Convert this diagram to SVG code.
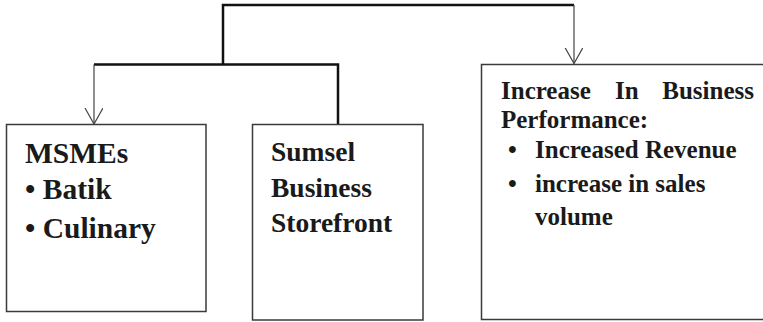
<svg xmlns="http://www.w3.org/2000/svg" width="763" height="322" viewBox="0 0 763 322">
<style>
.box{fill:#fff;stroke:#3a3a3a;stroke-width:1.5}
.t{font-family:"Liberation Serif","Times New Roman",serif;font-weight:bold;fill:#1a1a1a}
.thick{fill:none;stroke:#111;stroke-width:2.5}
.thin{fill:none;stroke:#444;stroke-width:1.2}
</style>
<defs>
<marker id="arr" markerWidth="20" markerHeight="20" refX="16" refY="9" orient="auto" markerUnits="userSpaceOnUse">
<path d="M0,0 L16,9 L0,18" fill="none" stroke="#444" stroke-width="1.2"/>
</marker>
</defs>
<g id="connectors">
<polyline class="thick" points="223,64.5 223,5 574,5"/>
<polyline class="thick" points="94,64.5 338,64.5 338,124"/>
<line class="thin" x1="94" y1="64.5" x2="94" y2="124" marker-end="url(#arr)"/>
<line class="thin" x1="574" y1="5" x2="574" y2="63.5" marker-end="url(#arr)"/>
</g>
<g id="msmes">
<rect class="box" x="6.5" y="124.5" width="199.5" height="187"/>
<text class="t" font-size="29.5"><tspan x="25" y="163">MSMEs</tspan><tspan x="25" y="199">• Batik</tspan><tspan x="25" y="238">• Culinary</tspan></text>
</g>
<g id="storefront">
<rect class="box" x="252.5" y="124.5" width="170.5" height="195.5"/>
<text class="t" font-size="27.5"><tspan x="271" y="161">Sumsel</tspan><tspan x="271" y="197">Business</tspan><tspan x="271" y="232">Storefront</tspan></text>
</g>
<g id="performance">
<rect class="box" x="481.5" y="64.5" width="290" height="255"/>
<text class="t" font-size="25"><tspan x="501" y="99">Increase</tspan><tspan x="615" y="99">In</tspan><tspan x="754" y="99" text-anchor="end">Business</tspan></text>
<text class="t" font-size="25" x="501" y="128">Performance:</text>
<text class="t" font-size="25"><tspan x="508" y="158">•</tspan><tspan x="535" y="158">Increased Revenue</tspan></text>
<text class="t" font-size="25"><tspan x="508" y="192">•</tspan><tspan x="535" y="192">increase in sales</tspan></text>
<text class="t" font-size="25" x="535" y="225">volume</text>
</g>
</svg>
